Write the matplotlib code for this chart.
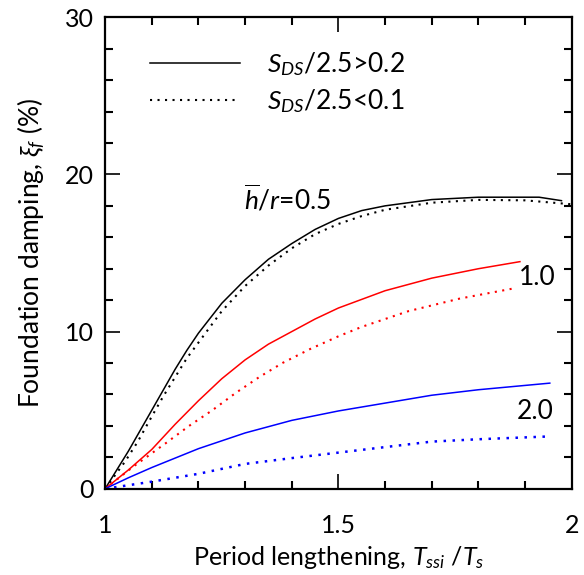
import matplotlib
matplotlib.use('Agg')
import matplotlib.pyplot as plt
from matplotlib.ticker import MultipleLocator

plt.rcParams['font.family'] = ['Lato', 'DejaVu Sans']
plt.rcParams['mathtext.fontset'] = 'custom'
plt.rcParams['mathtext.rm'] = 'Lato'
plt.rcParams['mathtext.it'] = 'Lato:italic'
plt.rcParams['mathtext.bf'] = 'Lato:bold'

# h/r = 0.5
x_05_hi = [1.0, 1.025, 1.05, 1.075, 1.1, 1.125, 1.15, 1.175, 1.2, 1.25, 1.3, 1.35, 1.4, 1.45,
           1.5, 1.55, 1.6, 1.7, 1.8, 1.93, 1.978]
y_05_hi = [0.0, 1.2, 2.4, 3.7, 5.0, 6.3, 7.6, 8.8, 9.9, 11.8, 13.3, 14.6, 15.6, 16.5,
           17.2, 17.7, 18.0, 18.4, 18.55, 18.55, 18.33]
x_05_lo = [1.0, 1.043, 1.07, 1.1, 1.125, 1.15, 1.175, 1.2, 1.25, 1.3, 1.35, 1.4, 1.45, 1.5,
           1.55, 1.6, 1.7, 1.8, 1.9, 2.0]
y_05_lo = [0.0, 1.74, 3.0, 4.6, 5.9, 7.1, 8.3, 9.3, 11.3, 12.9, 14.2, 15.3, 16.2, 16.85,
           17.35, 17.75, 18.2, 18.38, 18.35, 18.1]

# h/r = 1.0
x_10_hi = [1.0, 1.05, 1.1, 1.15, 1.2, 1.25, 1.3, 1.35, 1.4, 1.45, 1.5, 1.6, 1.7, 1.8, 1.889]
y_10_hi = [0.0, 1.2, 2.5, 4.1, 5.6, 7.0, 8.2, 9.2, 10.0, 10.8, 11.5, 12.6, 13.4, 14.0, 14.45]
x_10_lo = [1.0, 1.06, 1.13, 1.18, 1.23, 1.28, 1.33, 1.38, 1.44, 1.5, 1.55, 1.65, 1.76, 1.878]
y_10_lo = [0.0, 1.4, 2.9, 4.0, 5.0, 6.1, 7.1, 8.0, 8.9, 9.7, 10.3, 11.3, 12.1, 12.76]

# h/r = 2.0
x_20_hi = [1.0, 1.05, 1.1, 1.15, 1.2, 1.25, 1.3, 1.4, 1.5, 1.6, 1.7, 1.8, 1.953]
y_20_hi = [0.0, 0.7, 1.35, 1.95, 2.55, 3.05, 3.55, 4.35, 4.95, 5.45, 5.95, 6.3, 6.72]
x_20_lo = [1.0, 1.1, 1.2, 1.3, 1.4, 1.5, 1.6, 1.7, 1.8, 1.953]
y_20_lo = [0.0, 0.45, 0.95, 1.58, 1.95, 2.3, 2.65, 3.0, 3.15, 3.33]

fig = plt.figure(figsize=(5.84, 5.75), dpi=100)
ax = fig.add_axes([0.180, 0.150, 0.799, 0.820])

dot = (0, (1, 2.6))
lw = 1.1
h1, = ax.plot(x_05_hi, y_05_hi, color='black', lw=lw)
h2, = ax.plot(x_05_lo, y_05_lo, color='black', lw=1.5, ls=dot)
ax.plot(x_10_hi, y_10_hi, color='#ff0000', lw=lw)
ax.plot(x_10_lo, y_10_lo, color='#ff0000', lw=1.5, ls=dot)
ax.plot(x_20_hi, y_20_hi, color='#0000ff', lw=lw)
ax.plot(x_20_lo, y_20_lo, color='#0000ff', lw=1.8, ls=dot)

ax.text(1.392, 18.4, r'$\overline{h}/r$=0.5', fontsize=19, ha='center', va='center')
ax.text(1.927, 13.45, '1.0', fontsize=19, ha='center', va='center')
ax.text(1.921, 4.9, '2.0', fontsize=19, ha='center', va='center')

ax.legend([h1, h2], ['$S_{DS}$/2.5>0.2', '$S_{DS}$/2.5<0.1'], loc='upper left',
          bbox_to_anchor=(0.096, 0.93), frameon=False, fontsize=19,
          borderpad=0, borderaxespad=0,
          handlelength=3.4, handletextpad=1.05, labelspacing=0.35)

ax.set_xlim(1, 2)
ax.set_ylim(0, 30)
ax.set_xticks([1, 1.5, 2])
ax.set_xticklabels(['1', '1.5', '2'])
ax.set_yticks([0, 10, 20, 30])
ax.xaxis.set_minor_locator(MultipleLocator(0.1))
ax.yaxis.set_minor_locator(MultipleLocator(2))
ax.tick_params(which='both', direction='in', top=True, right=True, labelsize=18)
ax.tick_params(axis='x', which='major', length=11, width=1.2, pad=18)
ax.tick_params(axis='y', which='major', length=11, width=1.2, pad=8)
ax.tick_params(which='minor', length=6, width=1.5)
for s in ax.spines.values():
    s.set_linewidth(1.6)

ax.set_xlabel('Period lengthening, $T_{ssi}$ /$T_s$', fontsize=18, labelpad=5)
ax.set_ylabel(r'Foundation damping, $\xi_f$ (%)', fontsize=19, labelpad=13)

fig.savefig('out.png', dpi=100)
